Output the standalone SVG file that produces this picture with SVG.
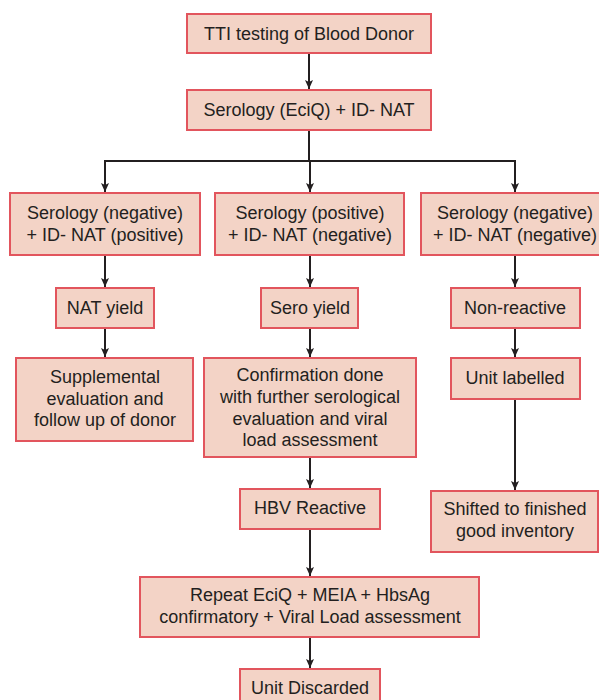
<svg xmlns="http://www.w3.org/2000/svg" width="599" height="700" viewBox="0 0 599 700">
<style>
.box{fill:#f3d3c6;stroke:#e2555d;stroke-width:2}
.t{font-family:"Liberation Sans",Arial,sans-serif;font-size:18px;fill:#231f20;text-anchor:middle}
.c{fill:none;stroke:#231f20;stroke-width:2}
</style>
<defs>
<marker id="ah" markerWidth="10" markerHeight="10" refX="9" refY="5" orient="auto" markerUnits="userSpaceOnUse">
<path d="M0,1 L9,5 L0,9 L2,5 Z" fill="#231f20"/>
</marker>
</defs>
<rect width="599" height="700" fill="#ffffff"/>
<g id="connectors">
<path class="c" d="M309,53 V89" marker-end="url(#ah)"/>
<path class="c" d="M309,130 V161"/>
<path class="c" d="M105,161 H515"/>
<path class="c" d="M105,160 V192" marker-end="url(#ah)"/>
<path class="c" d="M310,161 V192" marker-end="url(#ah)"/>
<path class="c" d="M515,160 V192" marker-end="url(#ah)"/>
<path class="c" d="M105,255 V287" marker-end="url(#ah)"/>
<path class="c" d="M310,255 V287" marker-end="url(#ah)"/>
<path class="c" d="M515,255 V287" marker-end="url(#ah)"/>
<path class="c" d="M105,328 V357" marker-end="url(#ah)"/>
<path class="c" d="M310,328 V357" marker-end="url(#ah)"/>
<path class="c" d="M515,328 V357" marker-end="url(#ah)"/>
<path class="c" d="M515,399 V490" marker-end="url(#ah)"/>
<path class="c" d="M310,457 V488" marker-end="url(#ah)"/>
<path class="c" d="M310,529 V576" marker-end="url(#ah)"/>
<path class="c" d="M310,637 V668" marker-end="url(#ah)"/>
</g>
<g id="n1"><rect class="box" x="187" y="14" width="244" height="39"/><text class="t" x="309" y="40">TTI testing of Blood Donor</text></g>
<g id="n2"><rect class="box" x="187" y="90" width="244" height="40"/><text class="t" x="309" y="116">Serology (EciQ) + ID- NAT</text></g>
<g id="n3"><rect class="box" x="10" y="193" width="190" height="62"/><text class="t" x="105" y="219">Serology (negative)</text><text class="t" x="105" y="241">+ ID- NAT (positive)</text></g>
<g id="n4"><rect class="box" x="215" y="193" width="189" height="62"/><text class="t" x="310" y="219">Serology (positive)</text><text class="t" x="310" y="241">+ ID- NAT (negative)</text></g>
<g id="n5"><rect class="box" x="421" y="193" width="188" height="62"/><text class="t" x="515" y="219">Serology (negative)</text><text class="t" x="515" y="241">+ ID- NAT (negative)</text></g>
<g id="n6"><rect class="box" x="56" y="288" width="98" height="40"/><text class="t" x="105" y="314">NAT yield</text></g>
<g id="n7"><rect class="box" x="261" y="288" width="97" height="40"/><text class="t" x="310" y="314">Sero yield</text></g>
<g id="n8"><rect class="box" x="451" y="288" width="129" height="40"/><text class="t" x="515" y="314">Non-reactive</text></g>
<g id="n9"><rect class="box" x="16" y="358" width="177" height="83"/><text class="t" x="105" y="383">Supplemental</text><text class="t" x="105" y="405">evaluation and</text><text class="t" x="105" y="426">follow up of donor</text></g>
<g id="n10"><rect class="box" x="204" y="358" width="212" height="99"/><text class="t" x="310" y="381">Confirmation done</text><text class="t" x="310" y="403">with further serological</text><text class="t" x="310" y="425">evaluation and viral</text><text class="t" x="310" y="446">load assessment</text></g>
<g id="n11"><rect class="box" x="451" y="358" width="129" height="41"/><text class="t" x="515" y="384">Unit labelled</text></g>
<g id="n12"><rect class="box" x="431" y="491" width="167" height="61"/><text class="t" x="515" y="515">Shifted to finished</text><text class="t" x="515" y="537">good inventory</text></g>
<g id="n13"><rect class="box" x="240" y="489" width="140" height="40"/><text class="t" x="310" y="514">HBV Reactive</text></g>
<g id="n14"><rect class="box" x="140" y="577" width="339" height="60"/><text class="t" x="310" y="601">Repeat EciQ + MEIA + HbsAg</text><text class="t" x="310" y="623">confirmatory + Viral Load assessment</text></g>
<g id="n15"><rect class="box" x="240" y="669" width="140" height="40"/><text class="t" x="310" y="694">Unit Discarded</text></g>
</svg>
